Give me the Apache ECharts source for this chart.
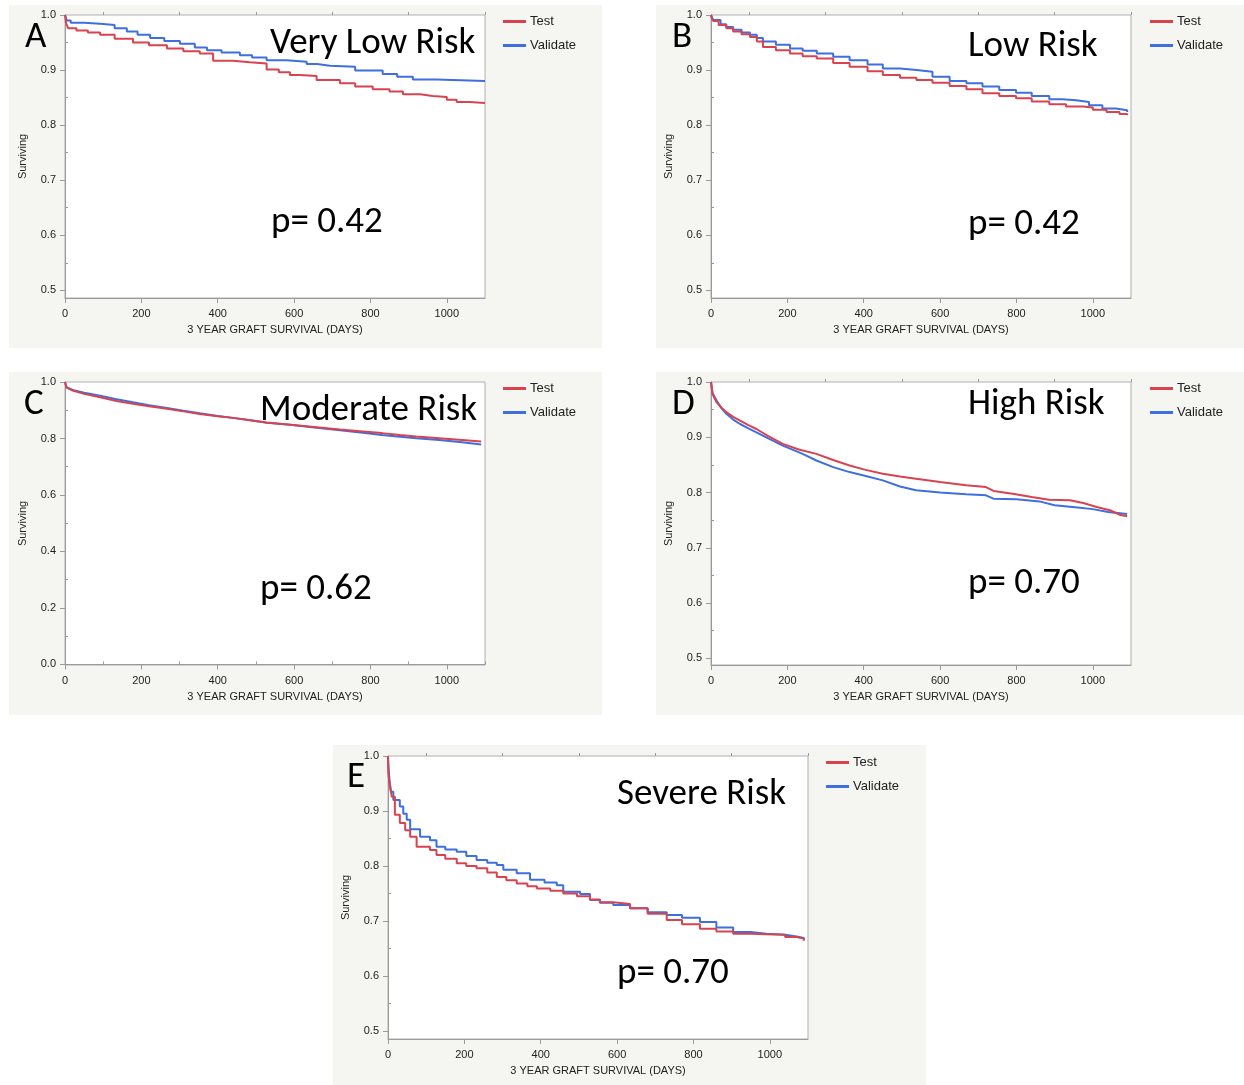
<!DOCTYPE html>
<html>
<head>
<meta charset="utf-8">
<script src="https://cdn.jsdelivr.net/npm/echarts@6/dist/echarts.min.js"></script>
<style>
html,body{margin:0;padding:0;background:#fff;}
#wrap{position:relative;width:1244px;height:1085px;}
.bg{position:absolute;background:#f5f5f1;}
#chart{position:absolute;left:0;top:0;width:1244px;height:1085px;}
</style>
</head>
<body>
<div id="wrap">
  <div class="bg" style="left:9px;top:5px;width:593px;height:343px"></div>
  <div class="bg" style="left:656px;top:5px;width:588px;height:343px"></div>
  <div class="bg" style="left:9px;top:372px;width:593px;height:343px"></div>
  <div class="bg" style="left:656px;top:372px;width:588px;height:343px"></div>
  <div class="bg" style="left:333px;top:745px;width:593px;height:340px"></div>
  <div id="chart"></div>
</div>
<script>
// ---- data: [day, surviving] ----
const aTest = [[0,1.0],[3,0.985],[8,0.976],[30,0.972],[60,0.968],[92,0.964],[130,0.957],[178,0.950],[220,0.945],[267,0.939],[310,0.934],[353,0.930],[388,0.917],[440,0.914],[484,0.912],[528,0.901],[560,0.896],[589,0.891],[615,0.889],[659,0.882],[720,0.876],[760,0.870],[806,0.865],[850,0.861],[885,0.856],[930,0.853],[963,0.851],[1000,0.846],[1026,0.842],[1060,0.840],[1100,0.839]];
const aValidate = [[0,1.0],[5,0.990],[15,0.986],[50,0.984],[92,0.982],[130,0.976],[162,0.970],[190,0.964],[223,0.958],[260,0.953],[301,0.948],[340,0.941],[372,0.936],[410,0.932],[458,0.927],[490,0.923],[528,0.918],[580,0.915],[633,0.911],[660,0.908],[694,0.906],[760,0.899],[832,0.893],[870,0.888],[911,0.883],[973,0.880],[1100,0.880]];
const bTest = [[0,1.0],[3,0.993],[6,0.989],[20,0.982],[40,0.976],[58,0.970],[80,0.965],[102,0.960],[120,0.952],[136,0.942],[170,0.936],[207,0.930],[240,0.925],[277,0.921],[320,0.913],[363,0.906],[410,0.898],[450,0.891],[495,0.886],[538,0.882],[580,0.877],[625,0.871],[669,0.865],[711,0.858],[755,0.853],[799,0.849],[840,0.843],[886,0.838],[930,0.834],[974,0.832],[1000,0.828],[1036,0.824],[1070,0.820],[1090,0.818]];
const bValidate = [[0,1.0],[3,0.995],[6,0.991],[25,0.983],[40,0.978],[58,0.973],[80,0.968],[102,0.964],[120,0.958],[136,0.952],[170,0.946],[207,0.939],[240,0.935],[277,0.930],[320,0.924],[363,0.918],[410,0.910],[450,0.903],[495,0.900],[538,0.897],[580,0.888],[625,0.880],[669,0.876],[711,0.870],[755,0.864],[799,0.859],[840,0.853],[886,0.847],[920,0.845],[956,0.842],[990,0.836],[1025,0.830],[1060,0.827],[1090,0.824]];
const cTest = [[0,1.0],[2,0.99],[4,0.98],[20,0.97],[50,0.958],[92,0.946],[135,0.933],[178,0.923],[220,0.914],[267,0.905],[310,0.896],[353,0.887],[400,0.879],[440,0.873],[490,0.864],[528,0.857],[590,0.849],[659,0.840],[720,0.832],[780,0.825],[830,0.819],[877,0.812],[920,0.807],[980,0.801],[1040,0.795],[1090,0.789]];
const cValidate = [[0,1.0],[2,0.99],[4,0.982],[20,0.972],[50,0.962],[92,0.951],[135,0.939],[178,0.928],[220,0.918],[267,0.908],[310,0.898],[353,0.889],[400,0.880],[440,0.873],[490,0.864],[528,0.856],[590,0.849],[659,0.838],[720,0.829],[780,0.820],[830,0.812],[877,0.806],[920,0.801],[980,0.795],[1040,0.787],[1090,0.779]];
const dTest = [[0,1.0],[1,0.996],[4,0.978],[15,0.963],[28,0.953],[41,0.945],[58,0.937],[76,0.930],[98,0.922],[119,0.915],[150,0.902],[188,0.888],[230,0.878],[276,0.870],[320,0.859],[363,0.849],[405,0.841],[450,0.834],[495,0.829],[537,0.825],[600,0.819],[668,0.813],[720,0.810],[740,0.803],[790,0.798],[840,0.792],[885,0.787],[940,0.786],[975,0.781],[1010,0.774],[1045,0.768],[1070,0.760],[1090,0.757]];
const dValidate = [[0,1.0],[1,0.995],[4,0.980],[15,0.966],[28,0.952],[41,0.942],[58,0.932],[76,0.924],[98,0.916],[119,0.909],[150,0.898],[188,0.885],[240,0.870],[276,0.858],[320,0.846],[363,0.837],[405,0.830],[450,0.822],[495,0.811],[537,0.804],[600,0.800],[668,0.797],[720,0.795],[740,0.789],[800,0.788],[860,0.784],[900,0.777],[960,0.773],[1000,0.770],[1040,0.765],[1090,0.761]];
const eTest = [[0,1.0],[1,0.968],[5,0.945],[10,0.926],[18,0.893],[31,0.878],[45,0.865],[58,0.853],[75,0.835],[110,0.829],[127,0.820],[150,0.813],[180,0.805],[205,0.800],[232,0.796],[260,0.788],[285,0.780],[310,0.774],[337,0.768],[365,0.763],[390,0.759],[425,0.755],[459,0.750],[495,0.745],[529,0.739],[555,0.734],[590,0.731],[634,0.723],[680,0.713],[730,0.702],[770,0.694],[817,0.686],[860,0.681],[904,0.677],[950,0.676],[991,0.675],[1040,0.671],[1070,0.668],[1089,0.664]];
const eValidate = [[0,1.0],[1,0.984],[4,0.955],[8,0.935],[14,0.920],[31,0.908],[40,0.895],[49,0.884],[58,0.867],[84,0.853],[110,0.847],[127,0.835],[150,0.830],[180,0.826],[205,0.818],[232,0.811],[260,0.806],[285,0.802],[302,0.793],[337,0.787],[372,0.775],[410,0.770],[442,0.765],[459,0.753],[503,0.749],[529,0.738],[555,0.733],[590,0.729],[634,0.723],[680,0.716],[730,0.711],[770,0.706],[817,0.698],[860,0.688],[904,0.680],[950,0.677],[991,0.675],[1040,0.672],[1070,0.669],[1089,0.667]];

const seriesNames = ['Test','Validate'];
const panelLetters = ['A','B','C','D','E'];
const panelTitles = ['Very Low Risk','Low Risk','Moderate Risk','High Risk','Severe Risk'];
const pValues = ['p= 0.42','p= 0.42','p= 0.62','p= 0.70','p= 0.70'];
const xMajorTicks = [0,200,400,600,800,1000];
const xMinorTicks = [100,300,500,700,900,1100];
const yMajorHalf = [0.5,0.6,0.7,0.8,0.9,1.0];
const yMinorHalf = [0.55,0.65,0.75,0.85,0.95];
const yMajorFull = [0.0,0.2,0.4,0.6,0.8,1.0];
const yMinorFull = [0.1,0.3,0.5,0.7,0.9];
const xAxisTitle = '3 YEAR GRAFT SURVIVAL (DAYS)';
const yAxisTitle = 'Surviving';

const panelData = [[aTest,aValidate],[bTest,bValidate],[cTest,cValidate],[dTest,dValidate],[eTest,eValidate]];

// ---- layout ----
const grids = [
  {left:65, top:15, width:420, height:283},
  {left:711, top:15, width:420, height:283},
  {left:65, top:382, width:420, height:283},
  {left:711, top:382, width:420, height:283},
  {left:388, top:756, width:420, height:283}
];
const yMins = [0.486, 0.486, -0.002, 0.488, 0.4855];
const fullScale = [false,false,true,false,false];
const stepped = [true,true,false,false,true];
const letterPos = [[25,36],[672,36],[24,403],[672,403],[347,776]];
const titlePos = [[270,42],[968,45],[260,409],[968,403],[617,793]];
const pPos = [[271,221],[968,223],[260,588],[968,582],[617,972]];
const legendPos = [[503,14],[1150,14],[503,381],[1150,381],[826,755]];

const RED = '#d8434f', BLUE = '#3e6fe0';
const tickFont = "'Liberation Sans', Arial, Helvetica, sans-serif";
const bigFont = "Carlito, Calibri, Lato, 'Open Sans', sans-serif";
const BIG = 37;

const xAxes = [], yAxes = [], series = [], legends = [], graphics = [];
grids.forEach((g, i) => {
  const yMaj = fullScale[i] ? yMajorFull : yMajorHalf;
  const yMin = fullScale[i] ? yMinorFull : yMinorHalf;
  xAxes.push({
    type:'value', gridIndex:i, min:0, max:1100,
    name: xAxisTitle, nameLocation:'middle', nameGap:26,
    nameTextStyle:{fontFamily:tickFont, fontSize:11, color:'#222'},
    axisLine:{show:true, lineStyle:{color:'#9a9a9a', width:1}},
    axisTick:{show:true, length:5, lineStyle:{color:'#9a9a9a'}, customValues:xMajorTicks},
    axisLabel:{fontFamily:tickFont, fontSize:11, color:'#222', margin:10, customValues:xMajorTicks,
      formatter:(v)=>String(Math.round(v))},
    splitLine:{show:false}
  });
  xAxes.push({
    type:'value', gridIndex:i, min:0, max:1100,
    axisLine:{show:false},
    axisTick:{show:true, length:3, lineStyle:{color:'#9a9a9a'}, customValues:xMinorTicks},
    axisLabel:{show:false}, splitLine:{show:false}
  });
  yAxes.push({
    type:'value', gridIndex:i, min:yMins[i], max:1.0,
    name: yAxisTitle, nameLocation:'middle', nameGap:37, nameRotate:90,
    nameTextStyle:{fontFamily:tickFont, fontSize:11, color:'#222'},
    axisLine:{show:true, lineStyle:{color:'#9a9a9a', width:1}},
    axisTick:{show:true, length:5, lineStyle:{color:'#9a9a9a'}, customValues:yMaj},
    axisLabel:{fontFamily:tickFont, fontSize:11, color:'#222', margin:9, customValues:yMaj,
      formatter:(v)=>Number(v).toFixed(1)},
    splitLine:{show:false}
  });
  yAxes.push({
    type:'value', gridIndex:i, min:yMins[i], max:1.0,
    axisLine:{show:false},
    axisTick:{show:true, length:3, lineStyle:{color:'#9a9a9a'}, customValues:yMin},
    axisLabel:{show:false}, splitLine:{show:false}
  });
  [RED, BLUE].forEach((col, k) => {
    series.push({
      type:'line', name:seriesNames[k], xAxisIndex:2*i, yAxisIndex:2*i,
      data: panelData[i][k], step: stepped[i] ? 'end' : false, symbol:'none', animation:false,
      lineStyle:{color:col, width:2}, itemStyle:{color:col}, z: k===0 ? 3 : 2
    });
  });
  legends.push({
    data:seriesNames.map(n => ({name:n, icon:'rect'})),
    left:legendPos[i][0], top:legendPos[i][1], orient:'vertical',
    itemWidth:23, itemHeight:3, itemGap:9, padding:0, selectedMode:false,
    textStyle:{fontFamily:tickFont, fontSize:13, color:'#222', lineHeight:15, padding:[0,0,0,-1]}
  });
  graphics.push({type:'text', left:letterPos[i][0], top:letterPos[i][1]-17, z:100,
    style:{text:panelLetters[i], font:BIG+"px "+bigFont, fill:'#000'}});
  graphics.push({type:'text', left:titlePos[i][0], top:titlePos[i][1]-17, z:100,
    style:{text:panelTitles[i], font:BIG+"px "+bigFont, fill:'#000'}});
  graphics.push({type:'text', left:pPos[i][0], top:pPos[i][1]-17, z:100,
    style:{text:pValues[i], font:BIG+"px "+bigFont, fill:'#000'}});
});

const chart = echarts.init(document.getElementById('chart'), null, {renderer:'canvas'});
chart.setOption({
  backgroundColor:'transparent',
  animation:false,
  grid: grids.map(g => Object.assign({show:true, backgroundColor:'#fff', borderColor:'#b0b0b0', borderWidth:1}, g)),
  xAxis: xAxes, yAxis: yAxes, series: series, legend: legends, graphic: graphics
});
</script>
</body>
</html>
